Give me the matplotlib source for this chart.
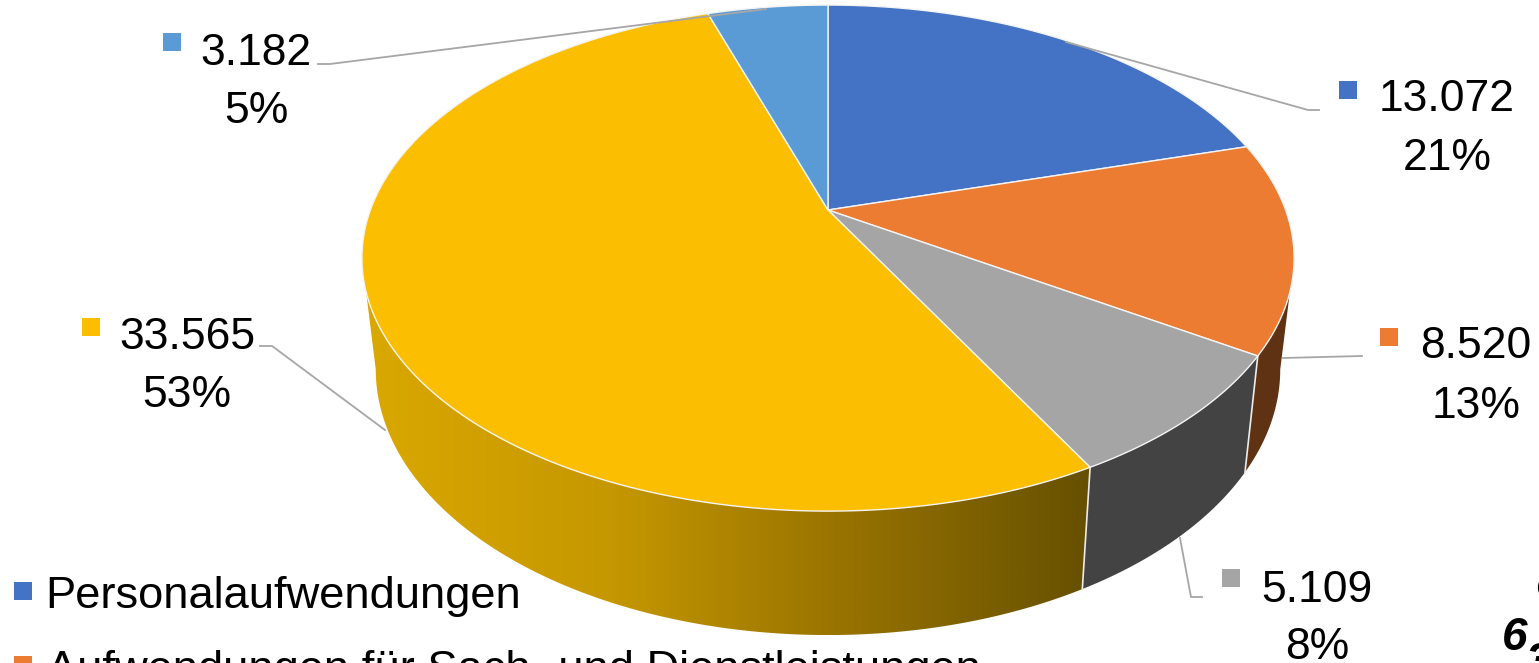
import numpy as np
import matplotlib
matplotlib.use('Agg')
import matplotlib.pyplot as plt
from matplotlib.colors import LinearSegmentedColormap
from matplotlib.patches import Polygon

plt.rcParams['font.family'] = ['Liberation Sans', 'DejaVu Sans']

# data
values = [13072, 8520, 5109, 33565, 3182]
value_labels = ['13.072', '8.520', '5.109', '33.565', '3.182']
percent_labels = ['21%', '13%', '8%', '53%', '5%']
legend_names = ['Personalaufwendungen', 'Aufwendungen für Sach- und Dienstleistungen']

# styles
top_colors = ['#4472C4', '#EC7C31', '#A5A5A5', '#FBBE00', '#5B9BD5']
wall_colors = [None, '#5F3213', '#434343', None, None]
line_color = '#A6A6A6'
seam_color = '#ECECEC'

# perspective of the disc, in pixels of the 1539x663 picture
CX = 828
KP = 0.19
TOP = dict(cy=210, ax=457.6, ay=243.9)
BOTTOM = dict(cy=319, ax=444, ay=256)
# angle (clockwise from 12 o'clock) where the disc silhouette is widest
VIS_FROM = np.degrees(np.arccos(-KP))
VIS_TO = 360 - VIS_FROM


def project(theta_deg, disc):
    t = np.radians(theta_deg)
    x, y = np.sin(t), np.cos(t)
    d = 1 + KP * y
    return np.column_stack([CX + disc['ax'] * x / d, disc['cy'] - disc['ay'] * y / d])


def arc(a, b, disc):
    return project(np.linspace(a, b, max(int(abs(b - a) * 2), 2) + 1), disc)


fig = plt.figure(figsize=(15.39, 6.63), dpi=100)
ax = fig.add_axes([0, 0, 1, 1])

edges = np.concatenate([[0], np.cumsum(values)]) / sum(values) * 360

# walls first
for i in range(len(values)):
    a = max(edges[i], VIS_FROM)
    b = min(edges[i + 1], VIS_TO)
    if b <= a:
        continue
    pts = np.vstack([arc(a, b, TOP), arc(b, a, BOTTOM)])
    if wall_colors[i] is not None:
        ax.add_patch(Polygon(pts, closed=True, facecolor=wall_colors[i], edgecolor='none', zorder=2))
    else:
        # the big yellow slice has a shaded wall
        cmap = LinearSegmentedColormap.from_list('wall', ['#DAA800', '#C69800', '#977200', '#665000'])
        x0, x1 = pts[:, 0].min(), pts[:, 0].max()
        y0, y1 = pts[:, 1].min(), pts[:, 1].max()
        grad = np.linspace(0, 1, 400).reshape(1, -1)
        im = ax.imshow(grad, cmap=cmap, extent=[x0, x1, y1, y0], aspect='auto', zorder=2)
        clip = Polygon(pts, closed=True, transform=ax.transData, facecolor='none', edgecolor='none')
        ax.add_patch(clip)
        im.set_clip_path(clip)
    # white seam where one wall meets the next
    if a > VIS_FROM:
        seam = np.vstack([project(a, TOP), project(a, BOTTOM)])
        ax.plot(seam[:, 0], seam[:, 1], color=seam_color, lw=1.2, zorder=3)

ax.set_xlim(0, 1539)
ax.set_ylim(663, 0)
ax.axis('off')

# top face
for i in range(len(values)):
    pts = np.vstack([[CX, TOP['cy']], arc(edges[i], edges[i + 1], TOP)])
    ax.add_patch(Polygon(pts, closed=True, facecolor=top_colors[i],
                         edgecolor='#F4F4F4', linewidth=1.0, joinstyle='round', zorder=4))

# leader lines
leaders = [
    ([1066, 1308, 1319], [42, 110, 110]),
    ([1283, 1362], [358, 356]),
    ([1180, 1191, 1202], [538, 597, 597]),
    ([385, 272, 260], [430, 346, 346]),
    ([766, 330, 318], [9, 64, 64]),
]
for lx, ly in leaders:
    ax.plot(lx, ly, color=line_color, lw=1.3, zorder=5, solid_joinstyle='miter')

# data labels with their colour keys
label_pos = [(1447, 111, 170), (1476, 358, 418), (1317, 602, 659), (187, 349, 407), (256, 65, 123)]
key_pos = [(1348, 90), (1389, 337), (1231, 578), (91, 327), (172, 42)]
FS = 32
for i in range(len(values)):
    x, y1, y2 = label_pos[i]
    ax.text(x, y1, value_labels[i], fontsize=FS, ha='center', va='baseline', color='black', zorder=6)
    ax.text(x, y2, percent_labels[i], fontsize=FS, ha='center', va='baseline', color='black', zorder=6)
    ax.plot(*key_pos[i], marker='s', ms=12.5, mew=0, color=top_colors[i], zorder=6)

# legend, cut off by the picture edge
ax.plot(23, 591, marker='s', ms=12.5, mew=0, color=top_colors[0], zorder=6)
ax.plot(23, 665, marker='s', ms=12.5, mew=0, color=top_colors[1], zorder=6, clip_on=False)
ax.text(45, 608, legend_names[0], fontsize=32.6, ha='left', va='baseline', color='black', zorder=6)
ax.text(47, 682, legend_names[1], fontsize=32.6, ha='left', va='baseline', color='black', zorder=6)

# leftover total text at the right edge
ax.text(1502, 650, '6', fontsize=33, fontweight='bold', fontstyle='italic', ha='left', va='baseline', zorder=6)
ax.text(1526, 675, '3', fontsize=33, fontweight='bold', fontstyle='italic', ha='left', va='baseline', zorder=6)
ax.text(1536, 592, '(', fontsize=12, fontweight='bold', ha='left', va='baseline', zorder=6)

fig.savefig('out.png', dpi=100)
